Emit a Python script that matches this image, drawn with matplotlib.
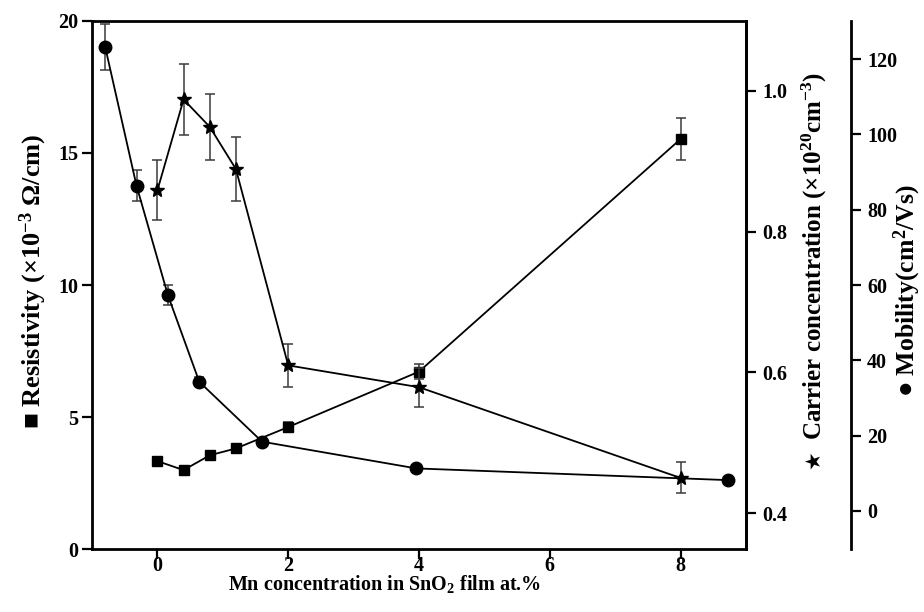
import matplotlib
matplotlib.use("Agg")
import matplotlib.pyplot as plt

# Mn doping level (at.%) for resistivity and carrier concentration
mn_conc = [0, 0.4, 0.8, 1.2, 2, 4, 8]
resistivity = [3.33, 2.99, 3.55, 3.81, 4.62, 6.72, 15.53]        # x10^-3 ohm/cm
resistivity_err = [0, 0, 0, 0, 0.2, 0.28, 0.78]
carrier = [0.859, 0.988, 0.949, 0.889, 0.61, 0.579, 0.45]        # x10^20 cm^-3
carrier_err = [0.043, 0.05, 0.047, 0.045, 0.031, 0.028, 0.022]

# Mobility series
mobility_x = [-0.8, -0.32, 0.16, 0.64, 1.6, 3.96, 8.72]
mobility = [123.3, 86.4, 57.3, 34.3, 18.4, 11.3, 8.2]            # cm^2/Vs
mobility_err = [6.1, 4.2, 2.7, 1.2, 0, 0, 0]

x_ticks = [0, 2, 4, 6, 8]
res_ticks = [0, 5, 10, 15, 20]
car_ticks = [0.4, 0.6, 0.8, 1.0]
mob_ticks = [0, 20, 40, 60, 80, 100, 120]

plt.rcParams.update({
    "font.family": "serif",
    "font.serif": ["Liberation Serif", "DejaVu Serif"],
    "font.weight": "bold",
    "mathtext.fontset": "custom",
    "mathtext.rm": "Liberation Serif:bold",
    "mathtext.it": "Liberation Serif:bold:italic",
    "mathtext.bf": "Liberation Serif:bold",
    "mathtext.default": "rm",
})

fig = plt.figure(figsize=(9.24, 6.12), dpi=100)
ax = fig.add_axes([0.0996, 0.1029, 0.7078, 0.8628])
ax_car = ax.twinx()
ax_mob = ax.twinx()
ax_mob.spines["right"].set_position(("axes", 1.1606))

line_kw = dict(color="black", lw=1.3, ecolor="#3a3a3a", elinewidth=1.1,
               capsize=3.5, capthick=1.1)

ax.errorbar(mn_conc, resistivity, yerr=resistivity_err, fmt="s-", ms=7.5,
            **line_kw)
ax_car.errorbar(mn_conc, carrier, yerr=carrier_err, fmt="*-", ms=10.5,
                **line_kw)
ax_mob.errorbar(mobility_x, mobility, yerr=mobility_err, fmt="o-", ms=9,
                **line_kw)

ax.set_xlim(-1, 9)
ax.set_ylim(0, 20)
ax_car.set_ylim(0.349, 1.0995)
ax_mob.set_ylim(-10.1, 130.1)

ax.set_xticks(x_ticks)
ax.set_yticks(res_ticks)
ax_car.set_yticks(car_ticks)
ax_car.set_yticklabels([f"{v:.1f}" for v in car_ticks])
ax_mob.set_yticks(mob_ticks)

for s in ax.spines.values():
    s.set_linewidth(2)
for name, s in ax_car.spines.items():
    s.set_visible(name == "right")
    s.set_linewidth(2)
for name, s in ax_mob.spines.items():
    s.set_visible(name == "right")
    s.set_linewidth(2)

tick_kw = dict(direction="out", length=7.5, width=1.6, labelsize=14.5)
ax.tick_params(axis="x", pad=-2.5, **tick_kw)
ax.tick_params(axis="y", pad=2.5, **tick_kw)
ax_car.tick_params(axis="y", pad=4, **tick_kw)
ax_mob.tick_params(axis="y", pad=4, **tick_kw)

ax.set_xlabel(r"Mn concentration in SnO$_2$ film at.%", fontsize=14.5,
              fontweight="bold")
ax.xaxis.set_label_coords(0.448, -0.046)

ax.set_ylabel("\u25a0 Resistivity (\u00d710$^{-3}$ \u03a9/cm)", fontsize=19,
              fontweight="bold")
ax.yaxis.set_label_coords(-0.066, 0.507)

ax_car.set_ylabel("Carrier concentration (\u00d710$^{20}$cm$^{-3}$)",
                  fontsize=18, fontweight="bold")
ax_car.yaxis.set_label_coords(1.083, 0.555)
# star symbol that keys the carrier-concentration curve
ax_car.text(1.103, 0.17, "\u2605", transform=ax_car.transAxes, rotation=90,
            ha="center", va="center", fontsize=15, family="DejaVu Sans",
            clip_on=False)

ax_mob.set_ylabel("\u25cf Mobility(cm$^{2}$/Vs)", fontsize=18.5,
                  fontweight="bold")
ax_mob.yaxis.set_label_coords(1.222, 0.49)

fig.savefig("out.png", dpi=100)
